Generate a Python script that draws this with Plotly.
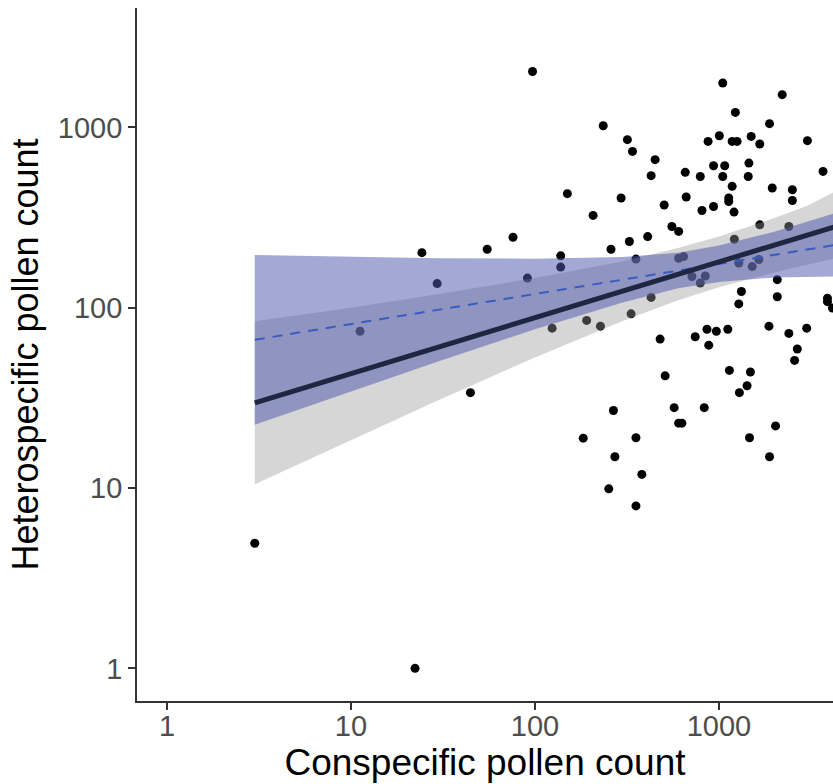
import plotly.graph_objects as go

# Observed pollen counts per stigma
conspecific = [
    3, 22.3, 24.3, 29.4, 55, 76, 91, 11.2, 44.6, 97,
    1049, 2208, 1228, 1884, 235, 318, 339, 873, 1005, 1180,
    1255, 1497, 1667, 3027, 450, 428, 656, 792, 935, 1075,
    1049, 1455, 1443, 3680, 150, 294, 1180, 1949, 2506, 2506,
    207, 504, 664, 809, 935, 1130, 1130, 1208, 555, 604,
    259, 326, 410, 138, 138, 354, 604, 643, 1213, 1667,
    2399, 1282, 1648, 1517, 713, 843, 792, 2075, 1325, 2075,
    3890, 428, 1282, 3890, 4140, 124, 191, 227, 333, 479,
    743, 861, 968, 1117, 880, 1870, 2399, 2999, 2667, 2577,
    510, 1140, 1483, 1422, 1292, 267, 571, 832, 604, 629,
    2032, 183, 354, 1466, 272, 1884, 381, 252, 354,
]
heterospecific = [
    4.94, 1.0, 202, 136, 211, 246, 146, 74, 33.8, 2040,
    1763, 1518, 1211, 1049, 1021, 855, 736, 836, 899, 836,
    836, 891, 809, 844, 662, 540, 563, 534, 613, 613,
    534, 634, 534, 570, 429, 406, 471, 461, 451, 393,
    325, 371, 411, 346, 364, 406, 388, 339, 282, 265,
    211, 233, 248, 194, 168, 186, 188, 192, 240, 288,
    282, 177, 185, 169, 149, 150, 137, 143, 123, 115,
    113, 114, 105, 108, 99.5, 77, 85, 79, 92.5, 67,
    69, 76, 74, 76, 62, 79, 72, 77, 59, 51,
    41.9, 44.9, 44, 36.9, 33.8, 26.9, 27.9, 27.9, 22.9, 22.9,
    22.1, 18.9, 19.0, 19.0, 14.9, 14.9, 11.9, 9.9, 7.96,
]

# Fitted lines (log-log)
fit_x = [3, 4300]
fit_y = [29.7, 282]
alt_fit_y = [66.4, 223]

# Confidence bands sampled along x
band_x = [3, 10, 30, 100, 300, 600, 1000, 2000, 3000, 4300]
gray_lo = [10.5, 18.5, 30.8, 53.0, 84.5, 110, 130, 157, 173, 188]
gray_hi = [84, 100, 119, 146, 181, 214, 248, 314, 367, 442]
blue_lo = [22.4, 34.4, 50.5, 76.0, 107, 128, 139, 147, 148, 149]
blue_hi = [196, 192, 188, 187, 191, 202, 221, 264, 299, 335]

x_ticks = [1, 10, 100, 1000]
y_ticks = [1, 10, 100, 1000]

fig = go.Figure()

fig.add_trace(go.Scatter(
    x=conspecific, y=heterospecific, mode="markers",
    marker=dict(color="black", size=9), hoverinfo="skip",
))

def ribbon(lo, hi, color):
    return go.Scatter(
        x=band_x + band_x[::-1], y=hi + lo[::-1],
        fill="toself", fillcolor=color, mode="lines",
        line=dict(width=0), hoverinfo="skip",
    )

fig.add_trace(ribbon(gray_lo, gray_hi, "rgba(153,153,153,0.4)"))
fig.add_trace(ribbon(blue_lo, blue_hi, "rgba(80,88,172,0.52)"))

fig.add_trace(go.Scatter(
    x=fit_x, y=alt_fit_y, mode="lines",
    line=dict(color="#3a5cc0", width=2, dash="10px,8px"), hoverinfo="skip",
))
fig.add_trace(go.Scatter(
    x=fit_x, y=fit_y, mode="lines",
    line=dict(color="#1f2640", width=5), hoverinfo="skip",
))

axis_common = dict(
    type="log", showgrid=False, zeroline=False,
    showline=True, linecolor="#333333", linewidth=1.8,
    ticks="outside", ticklen=7, tickwidth=1.5, tickcolor="#333333",
    tickfont=dict(size=29, color="#4d4d4d"),
)

fig.update_xaxes(
    **axis_common, range=[-0.163, 3.620],
    tickvals=x_ticks, ticktext=[str(v) for v in x_ticks],
    ticklabelstandoff=-9,
    title=dict(text="Conspecific pollen count", font=dict(size=37, color="black"), standoff=3),
)
fig.update_yaxes(
    **axis_common, range=[-0.181, 3.662],
    tickvals=y_ticks, ticktext=[str(v) for v in y_ticks],
    title=dict(text="Heterospecific pollen count", font=dict(size=36, color="black"), standoff=8),
)

fig.update_layout(
    width=833, height=784,
    margin=dict(l=137, r=0, t=8, b=83),
    plot_bgcolor="white", paper_bgcolor="white",
    showlegend=False,
    font=dict(family="Liberation Sans, Arial, sans-serif"),
)

fig.write_html("out.html")
